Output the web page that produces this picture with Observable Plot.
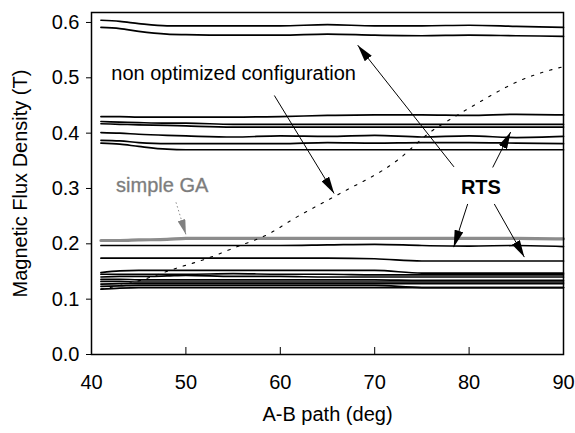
<!DOCTYPE html>
<html><head><meta charset="utf-8">
<script src="https://cdn.jsdelivr.net/npm/d3@7"></script>
<script src="https://cdn.jsdelivr.net/npm/@observablehq/plot@0.6"></script>
<style>body{margin:0;background:#fff}#chart{width:575px;height:433px}</style>
</head><body><div id="chart"></div>
<script>
// ---- data ----
const xTicks = [40, 50, 60, 70, 80, 90];
const yTicks = [0, 0.1, 0.2, 0.3, 0.4, 0.5, 0.6];
const xGrid = [41, 43, 45, 48, 50, 55, 60, 65, 70, 75, 80, 85, 90];

// RTS / optimized black curves
const top1  = [0.604,0.602,0.598,0.594,0.594,0.594,0.594,0.596,0.594,0.594,0.595,0.593,0.591];
const top2  = [0.591,0.589,0.584,0.579,0.578,0.577,0.577,0.579,0.577,0.576,0.577,0.576,0.575];
const mid1  = [0.430,0.430,0.429,0.429,0.429,0.429,0.430,0.432,0.433,0.433,0.432,0.434,0.433];
const mid2  = [0.421,0.420,0.419,0.418,0.418,0.416,0.416,0.416,0.416,0.416,0.416,0.416,0.416];
const mid3  = [0.417,0.416,0.415,0.414,0.413,0.411,0.411,0.411,0.411,0.411,0.411,0.411,0.411];
const mid4  = [0.401,0.400,0.398,0.396,0.395,0.393,0.395,0.394,0.396,0.393,0.395,0.392,0.394];
const mid5  = [0.387,0.386,0.383,0.381,0.381,0.381,0.381,0.383,0.382,0.383,0.383,0.382,0.381];
const mid6  = [0.382,0.380,0.376,0.371,0.370,0.370,0.370,0.370,0.370,0.370,0.370,0.370,0.370];
const low1  = [0.197,0.197,0.197,0.197,0.197,0.197,0.197,0.198,0.199,0.197,0.196,0.197,0.195];
const low2  = [0.174,0.174,0.174,0.174,0.174,0.174,0.174,0.174,0.173,0.169,0.169,0.169,0.169];
const bandA = [0.148,0.151,0.152,0.152,0.152,0.152,0.152,0.152,0.152,0.147,0.147,0.147,0.147];
const bandB = [0.145,0.145,0.145,0.145,0.145,0.146,0.145,0.145,0.144,0.144,0.144,0.144,0.144];
const bandC = [0.140,0.141,0.141,0.142,0.143,0.141,0.141,0.140,0.140,0.140,0.140,0.140,0.140];
const bandD = [0.136,0.136,0.135,0.135,0.135,0.135,0.135,0.135,0.135,0.134,0.134,0.134,0.134];
const bandE = [0.132,0.132,0.131,0.131,0.131,0.131,0.131,0.131,0.131,0.131,0.131,0.131,0.131];
const bandF = [0.127,0.128,0.128,0.128,0.128,0.128,0.128,0.128,0.128,0.128,0.128,0.128,0.128];
const bandG = [0.123,0.124,0.125,0.125,0.125,0.125,0.125,0.125,0.125,0.121,0.121,0.121,0.121];
const bandH = [0.118,0.120,0.121,0.121,0.121,0.121,0.121,0.121,0.121,0.121,0.121,0.121,0.121];

// simple GA (gray)
const simpleGA = [0.206,0.206,0.207,0.208,0.210,0.210,0.210,0.210,0.210,0.210,0.210,0.210,0.209];

// non optimized configuration (dotted)
const nonOptX = [41, 45, 49, 52, 55, 59, 61.4, 65.9, 72.4, 75.9, 78.4, 80.5, 82, 85.4, 88, 90];
const nonOptY = [0.118,0.133,0.156,0.172,0.192,0.220,0.245,0.287,0.351,0.402,0.429,0.450,0.465,0.495,0.511,0.520];

// annotations
const labels = [
  {text: "non optimized configuration", x: 42.1, y: 0.508, kind: "plain"},
  {text: "simple GA", x: 42.6, y: 0.306, kind: "gray"},
  {text: "RTS", x: 81.25, y: 0.302, kind: "bold"}
];
const blackArrows = [
  {x1: 59.37, y1: 0.468, x2: 65.7, y2: 0.291},
  {x1: 78.4, y1: 0.339, x2: 68.2, y2: 0.559},
  {x1: 82.5, y1: 0.338, x2: 84.4, y2: 0.402},
  {x1: 79.85, y1: 0.272, x2: 78.37, y2: 0.194},
  {x1: 82.67, y1: 0.272, x2: 85.85, y2: 0.176}
];
const grayArrows = [{x1: 48.95, y1: 0.275, x2: 50.0, y2: 0.217}];
const xLabel = ["A-B path (deg)"];
const yLabel = ["Magnetic Flux Density (T)"];

// ---- build tidy rows ----
const blackSeries = {top1, top2, mid1, mid2, mid3, mid4, mid5, mid6, low1, low2,
  bandA, bandB, bandC, bandD, bandE, bandF, bandG, bandH};
const blackRows = Object.entries(blackSeries).flatMap(([name, vals]) =>
  xGrid.map((x, i) => ({series: name, x, y: vals[i]})));
const gaRows = xGrid.map((x, i) => ({x, y: simpleGA[i]}));
const nonOptRows = nonOptX.map((x, i) => ({x, y: nonOptY[i]}));

const font = "'Liberation Sans', Arial, Helvetica, sans-serif";
const plotH = 433 - 12 - 79;

const chart = Plot.plot({
  width: 575, height: 433,
  marginLeft: 91, marginRight: 12, marginTop: 12, marginBottom: 79,
  style: {fontFamily: font, fontSize: "20px", background: "white", color: "black", overflow: "visible"},
  x: {domain: [40, 90]},
  y: {domain: [0, 0.618]},
  marks: [
    Plot.axisY(yTicks, {tickSize: 5, tickPadding: 7, tickFormat: d => d.toFixed(1), fontSize: 20, label: null}),
    Plot.axisX(xTicks, {tickSize: 0, tickPadding: 20, fontSize: 20, label: null}),
    Plot.tickX(xTicks, {x: d => d, insetTop: plotH - 7, stroke: "black", strokeWidth: 1}),
    Plot.line(gaRows, {x: "x", y: "y", stroke: "#8c8c8c", strokeWidth: 3.2, curve: "monotone-x"}),
    Plot.line(blackRows, {x: "x", y: "y", z: "series", stroke: "black", strokeWidth: 1.7, curve: "monotone-x"}),
    Plot.line(nonOptRows, {x: "x", y: "y", stroke: "black", strokeWidth: 1.1, strokeDasharray: "2.5,7", curve: "monotone-x"}),
    Plot.link(blackArrows, {x1: "x1", y1: "y1", x2: "x2", y2: "y2", stroke: "black", strokeWidth: 1}),
    Plot.link(grayArrows, {x1: "x1", y1: "y1", x2: "x2", y2: "y2", stroke: "#8c8c8c", strokeWidth: 1, strokeDasharray: "1.5,2.5"}),
    Plot.text(labels.filter(d => d.kind === "plain"), {x: "x", y: "y", text: "text", textAnchor: "start", fontSize: 20, fill: "black"}),
    Plot.text(labels.filter(d => d.kind === "gray"), {x: "x", y: "y", text: "text", textAnchor: "start", fontSize: 20, fill: "#7d7d7d", stroke: "#9a9a9a", strokeWidth: 0.4}),
    Plot.text(labels.filter(d => d.kind === "bold"), {x: "x", y: "y", text: "text", textAnchor: "middle", fontSize: 20, fontWeight: "bold", fill: "black"}),
    Plot.text(xLabel, {text: d => d, frameAnchor: "bottom", textAnchor: "middle", dy: 66, fontSize: 20}),
    Plot.text(yLabel, {text: d => d, frameAnchor: "left", textAnchor: "middle", dx: -71, rotate: -90, fontSize: 20}),
    Plot.frame({stroke: "black", strokeWidth: 1.5})
  ]
});

// filled arrowheads
const ns = "http://www.w3.org/2000/svg";
const defs = document.createElementNS(ns, "defs");
function mk(id, color, len, wid) {
  const m = document.createElementNS(ns, "marker");
  m.setAttribute("id", id);
  m.setAttribute("markerUnits", "userSpaceOnUse");
  m.setAttribute("viewBox", `0 0 ${len} ${wid}`);
  m.setAttribute("refX", len); m.setAttribute("refY", wid / 2);
  m.setAttribute("markerWidth", len); m.setAttribute("markerHeight", wid);
  m.setAttribute("orient", "auto");
  const p = document.createElementNS(ns, "path");
  p.setAttribute("d", `M0,0L${len},${wid / 2}L0,${wid}Z`);
  p.setAttribute("fill", color); p.setAttribute("stroke", "none");
  m.appendChild(p); defs.appendChild(m);
}
mk("ahBlack", "black", 17, 9);
mk("ahGray", "#808080", 15, 8);
chart.insertBefore(defs, chart.firstChild);
const linkGroups = chart.querySelectorAll('g[aria-label="link"]');
linkGroups.forEach((g, i) => {
  const id = i === 0 ? "ahBlack" : "ahGray";
  g.querySelectorAll("path").forEach(p => {
    p.setAttribute("marker-end", `url(#${id})`);
    if (id === "ahGray") p.style.strokeDasharray = "1.5,2.5";
  });
});
document.getElementById("chart").appendChild(chart);
</script>
</body></html>
